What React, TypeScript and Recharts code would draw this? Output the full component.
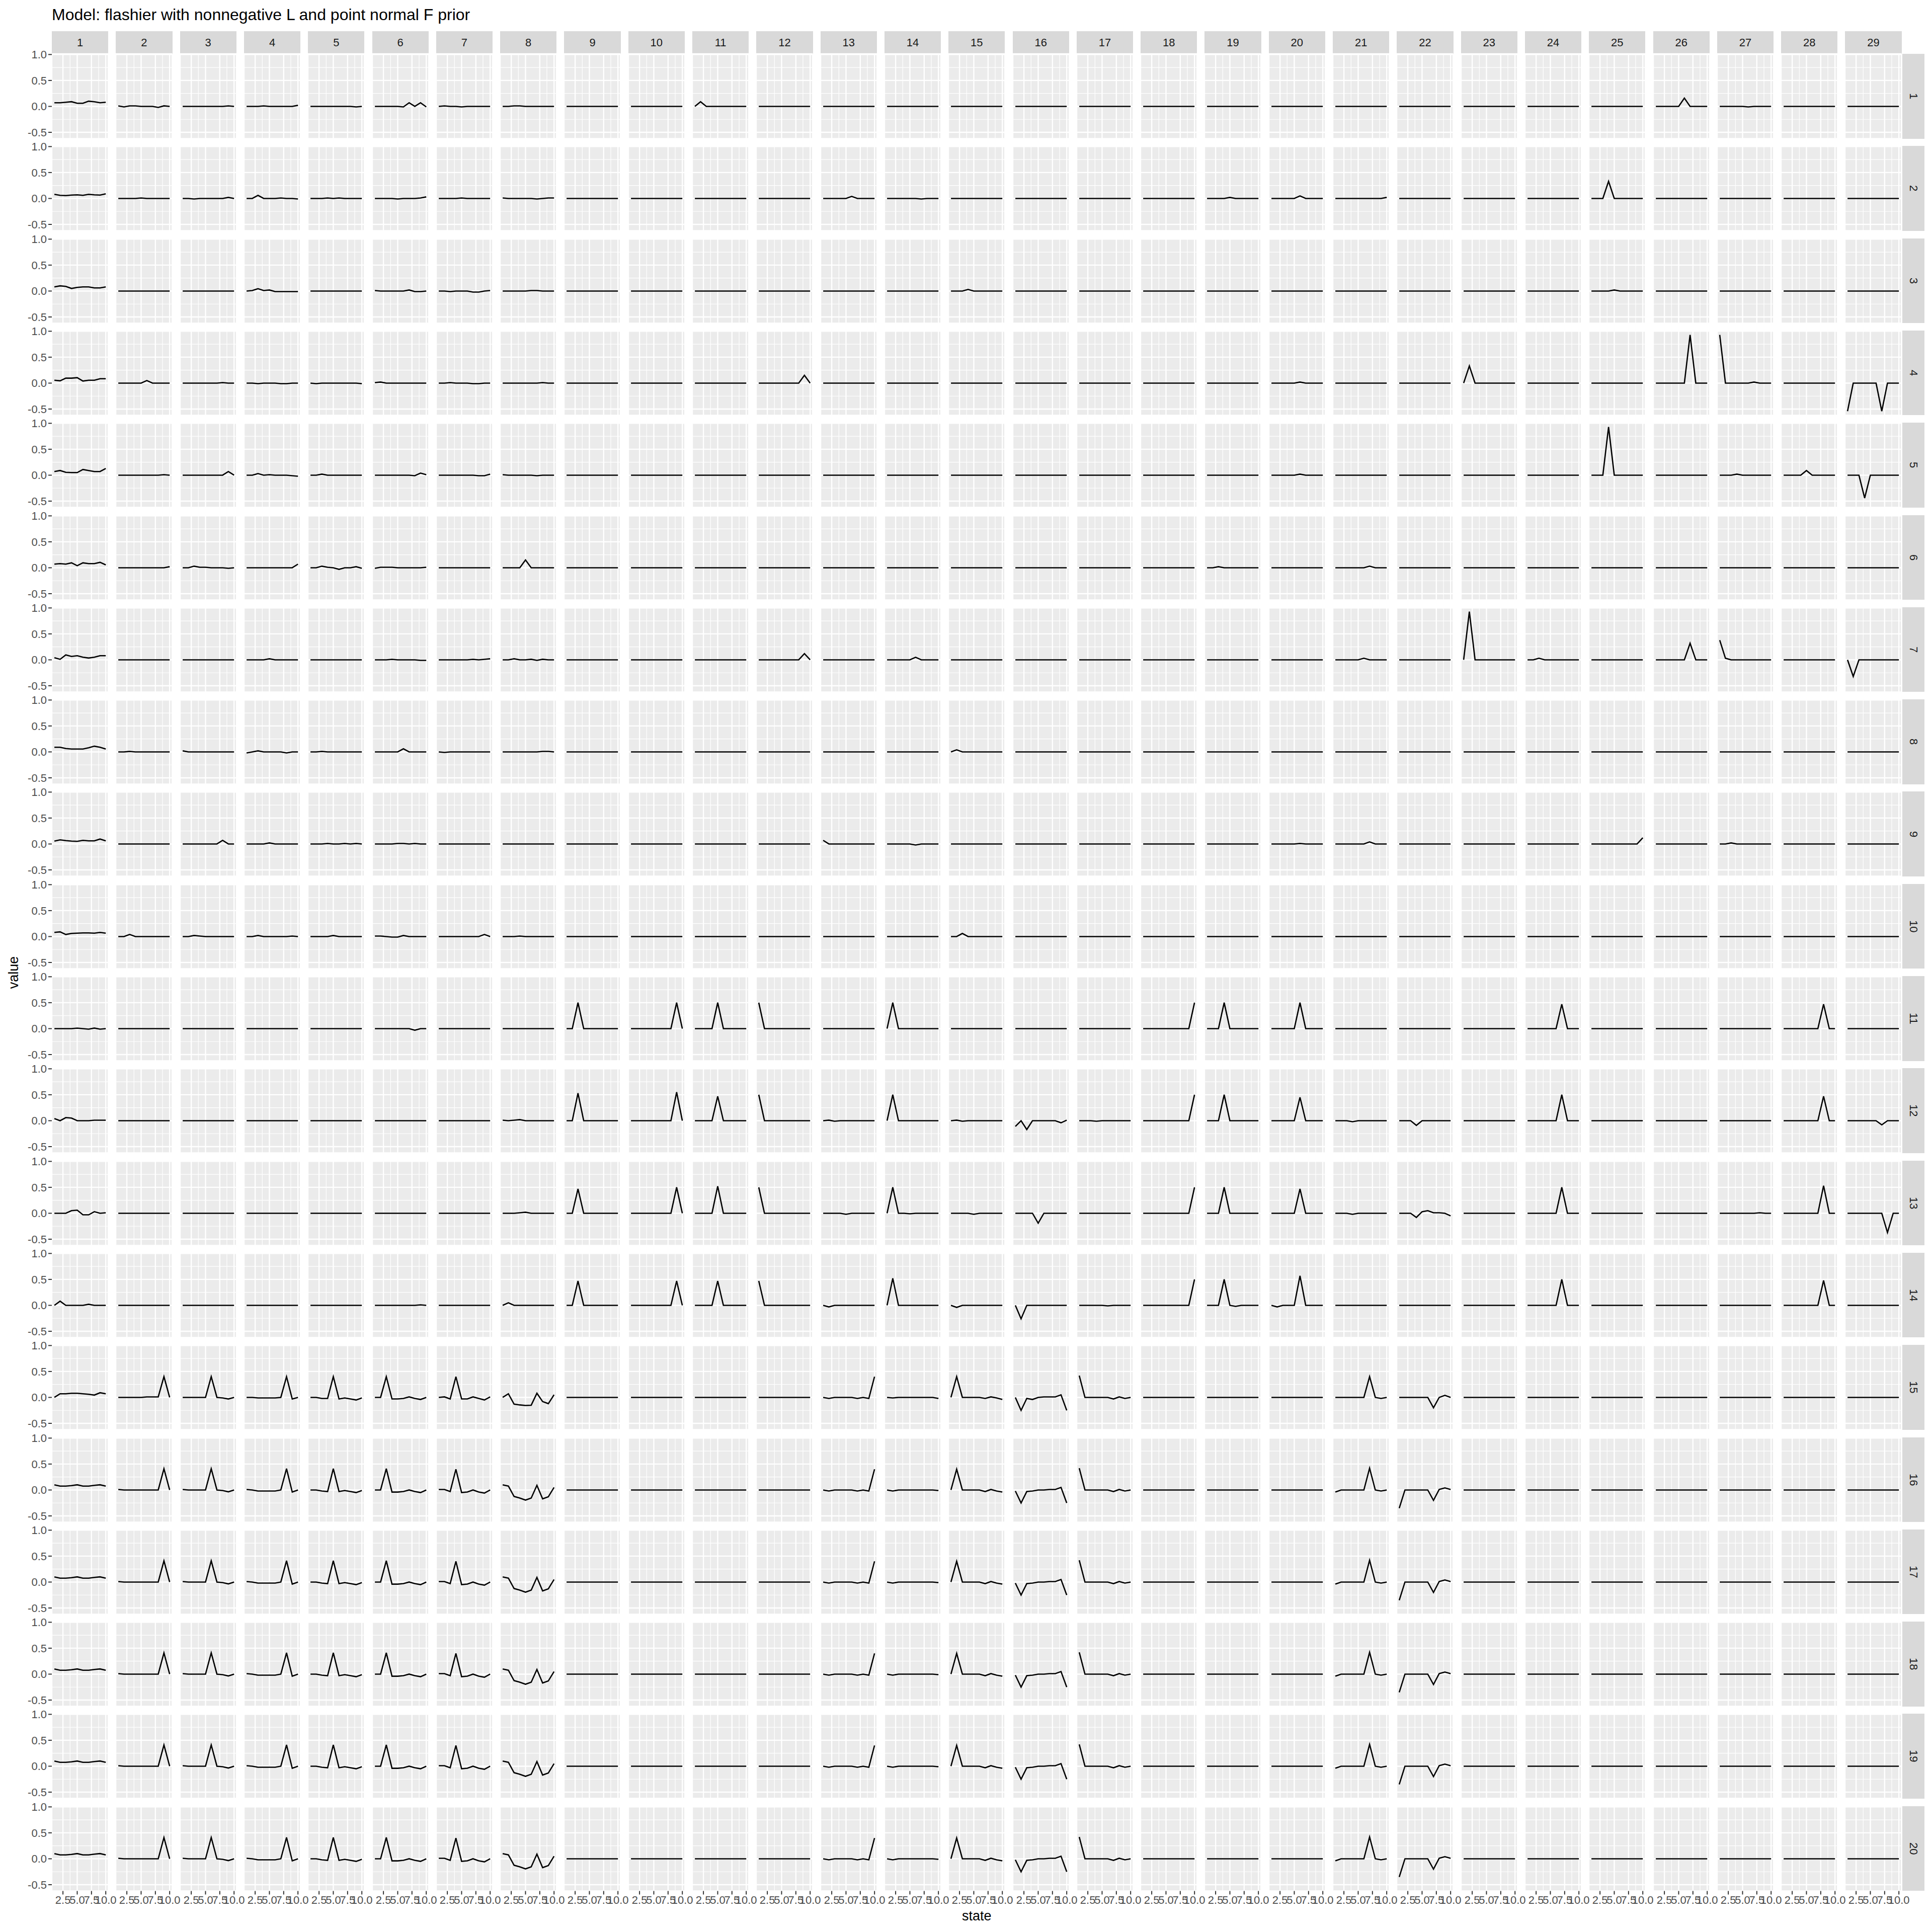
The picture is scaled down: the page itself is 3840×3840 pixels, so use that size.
import { LineChart, Line, XAxis, YAxis, CartesianGrid } from 'recharts';

type Trace = [number, number[]];

const states = [1, 2, 3, 4, 5, 6, 7, 8, 9, 10];
const colNames = ['1', '2', '3', '4', '5', '6', '7', '8', '9', '10', '11', '12', '13', '14', '15', '16', '17', '18', '19', '20', '21', '22', '23', '24', '25', '26', '27', '28', '29'];
const rowNames = ['1', '2', '3', '4', '5', '6', '7', '8', '9', '10', '11', '12', '13', '14', '15', '16', '17', '18', '19', '20'];
const xTicks = [2.5, 5, 7.5, 10];
const xMinor = [1.25, 3.75, 6.25, 8.75];
const yTicks = [-0.5, 0, 0.5, 1];
const yMinor = [-0.25, 0.25, 0.75];

// one list per row: [column, values for state 1..10]; panels not listed are flat at 0
const row01: Trace[] = [
  [1, [0.07, 0.07, 0.08, 0.09, 0.06, 0.06, 0.1, 0.09, 0.07, 0.08]],
  [2, [0.01, -0.01, 0.01, 0.01, 0, 0, 0, -0.02, 0.01, 0]],
  [3, [0, 0, 0, 0, 0, 0, 0, 0, 0.01, 0]],
  [4, [0, 0, 0, 0.01, 0, 0, 0, 0, 0, 0.02]],
  [5, [0, 0, 0, 0, 0, 0, 0, 0, -0.01, 0]],
  [6, [0, 0, 0, 0, 0, -0.01, 0.07, 0, 0.07, -0.01]],
  [7, [0, 0.01, 0, 0, -0.01, 0, 0, 0, 0, 0]],
  [8, [0, 0, 0.01, 0.01, 0, 0, 0, 0, 0, 0]],
  [11, [0, 0.09, 0, 0, 0, 0, 0, 0, 0, 0]],
  [26, [0, 0, 0, 0, 0, 0.16, 0, 0, 0, 0]],
  [27, [0, 0, 0, 0, 0, -0.01, 0, 0, 0, 0]],
];
const row02: Trace[] = [
  [1, [0.08, 0.06, 0.055, 0.065, 0.07, 0.06, 0.08, 0.07, 0.065, 0.09]],
  [2, [0, 0, 0, 0, 0.01, 0, 0, 0, 0, 0]],
  [3, [0, 0, -0.01, 0, 0, 0, 0, 0, 0.02, 0]],
  [4, [0, 0, 0.06, 0, 0, 0, 0.01, 0, 0, -0.01]],
  [5, [0, 0, 0, 0.01, 0, 0.01, 0, 0, 0, 0]],
  [6, [0, 0, 0, 0, -0.01, 0, 0, 0, 0.01, 0.03]],
  [7, [0, 0, 0, 0, 0.01, 0, 0, 0, 0, 0]],
  [8, [0.01, 0, 0, 0, 0, 0, -0.01, 0, 0.01, 0.01]],
  [13, [0, 0, 0, 0, 0, 0.04, 0, 0, 0, 0]],
  [14, [0, 0, 0, 0, 0, 0, -0.01, 0, 0, 0]],
  [19, [0, 0, 0, 0, 0.02, 0, 0, 0, 0, 0]],
  [20, [0, 0, 0, 0, 0, 0.05, 0, 0, 0, 0]],
  [21, [0, 0, 0, 0, 0, 0, 0, 0, 0, 0.02]],
  [25, [0, 0, 0, 0.33, 0, 0, 0, 0, 0, 0]],
];
const row03: Trace[] = [
  [1, [0.08, 0.1, 0.09, 0.05, 0.07, 0.08, 0.08, 0.06, 0.06, 0.08]],
  [4, [0, 0.01, 0.045, 0.01, 0.02, -0.01, -0.01, -0.01, -0.01, -0.01]],
  [6, [0.01, 0, 0, 0, 0, 0, 0.02, -0.01, -0.01, 0]],
  [7, [0, 0, -0.01, 0, 0, 0, -0.02, -0.02, 0, 0.01]],
  [8, [0, 0, 0, 0, 0, 0.01, 0.01, 0, 0, 0]],
  [15, [0, 0, 0, 0.03, 0, 0, 0, 0, 0, 0]],
  [25, [0, 0, 0, 0, 0.02, 0, 0, 0, 0, 0]],
];
const row04: Trace[] = [
  [1, [0.055, 0.045, 0.095, 0.095, 0.105, 0.04, 0.055, 0.055, 0.085, 0.085]],
  [2, [0, 0, 0, 0, 0, 0.05, 0, 0, 0, 0]],
  [3, [0, 0, 0, 0, 0, 0, 0, 0.01, 0, 0]],
  [4, [0, 0, -0.01, 0, 0, 0, -0.01, -0.01, 0, 0]],
  [5, [0, -0.01, 0, 0, 0, 0, 0, 0, 0, -0.01]],
  [6, [0.01, 0.02, 0, 0, 0, 0, 0, 0, 0, 0]],
  [7, [0, 0, 0.01, 0, 0, 0, -0.01, -0.01, 0, 0]],
  [8, [0, 0, 0, 0, 0, 0, 0, 0.01, 0, 0]],
  [12, [0, 0, 0, 0, 0, 0, 0, 0, 0.15, 0]],
  [20, [0, 0, 0, 0, 0, 0.02, 0, 0, 0, 0]],
  [23, [0, 0.33, 0, 0, 0, 0, 0, 0, 0, 0]],
  [26, [0, 0, 0, 0, 0, 0, 0.93, 0, 0, 0]],
  [27, [0.93, 0, 0, 0, 0, 0, 0.02, 0, 0, 0]],
  [29, [-0.54, 0, 0, 0, 0, 0, -0.54, 0, 0, 0]],
];
const row05: Trace[] = [
  [1, [0.07, 0.09, 0.055, 0.05, 0.05, 0.11, 0.09, 0.07, 0.07, 0.13]],
  [2, [0, 0, 0, 0, 0, 0, 0, 0, 0.01, 0]],
  [3, [0, 0, 0, 0, 0, 0, 0, 0, 0.07, 0]],
  [4, [0, 0, 0.03, 0, 0.01, 0, 0, 0, -0.01, -0.02]],
  [5, [0, 0, 0.02, 0, 0, 0, 0, 0, 0, 0]],
  [6, [0, 0, 0, 0, 0, 0, 0, -0.01, 0.04, 0.01]],
  [7, [0, 0, 0, 0, 0, 0, 0, -0.01, -0.01, 0.02]],
  [8, [0.01, 0, 0, 0, 0, 0, -0.01, 0, 0, 0]],
  [20, [0, 0, 0, 0, 0, 0.02, 0, 0, 0, 0]],
  [25, [0, 0, 0, 0.93, 0, 0, 0, 0, 0, 0]],
  [27, [0, 0, 0, 0.02, 0, 0, 0, 0, 0, 0]],
  [28, [0, 0, 0, 0, 0.09, 0, 0, 0, 0, 0]],
  [29, [0, 0, 0, -0.44, 0, 0, 0, 0, 0, 0]],
];
const row06: Trace[] = [
  [1, [0.07, 0.08, 0.07, 0.095, 0.04, 0.095, 0.08, 0.08, 0.105, 0.055]],
  [2, [0, 0, 0, 0, 0, 0, 0, 0, 0, 0.02]],
  [3, [0, 0, 0.03, 0.01, 0.01, 0, 0, 0, -0.01, 0]],
  [4, [0, 0, 0, 0, 0, 0, 0, 0, 0, 0.07]],
  [5, [0, 0, 0.03, 0.01, 0, -0.03, 0, 0, 0.02, -0.01]],
  [6, [-0.01, 0.01, 0.01, 0.01, 0, 0, 0, 0, 0, 0.01]],
  [8, [0, 0, 0, 0, 0.15, 0, 0, 0, 0, 0]],
  [19, [0, 0, 0.02, 0, 0, 0, 0, 0, 0, 0]],
  [21, [0, 0, 0, 0, 0, 0, 0.03, 0, 0, 0]],
];
const row07: Trace[] = [
  [1, [0.04, 0.01, 0.095, 0.065, 0.08, 0.05, 0.035, 0.05, 0.08, 0.08]],
  [4, [0, 0, 0, 0, 0.02, 0, 0, 0, 0, 0]],
  [6, [0, 0, 0, 0.01, 0, 0, 0, 0, -0.01, -0.01]],
  [7, [0, 0, 0, 0, 0, 0, 0.01, 0, 0.01, 0.02]],
  [8, [0, 0, 0.02, 0, 0, 0.01, -0.01, 0.01, 0, 0]],
  [12, [0, 0, 0, 0, 0, 0, 0, 0, 0.12, 0]],
  [14, [0, 0, 0, 0, 0, 0.05, 0, 0, 0, 0]],
  [21, [0, 0, 0, 0, 0, 0.03, 0, 0, 0, 0]],
  [23, [0, 0.93, 0, 0, 0, 0, 0, 0, 0, 0]],
  [24, [0, 0, 0.03, 0, 0, 0, 0, 0, 0, 0]],
  [26, [0, 0, 0, 0, 0, 0, 0.32, 0, 0, 0]],
  [27, [0.38, 0.03, 0, 0, 0, 0, 0, 0, 0, 0]],
  [29, [0, -0.32, 0, 0, 0, 0, 0, 0, 0, 0]],
];
const row08: Trace[] = [
  [1, [0.09, 0.09, 0.065, 0.055, 0.055, 0.055, 0.08, 0.11, 0.09, 0.055]],
  [2, [0, 0, 0.01, 0, 0, 0, 0, 0, 0, 0]],
  [3, [0.02, 0, 0, 0, 0, 0, 0, 0, 0, 0]],
  [4, [-0.02, 0, 0.02, 0, 0, 0, 0, -0.02, 0, 0]],
  [5, [0, 0, 0.01, 0, 0, 0, 0, 0, 0, 0]],
  [6, [0, 0, 0, 0, 0, 0.06, 0, 0, 0, 0]],
  [7, [0, -0.01, 0, 0, 0, 0, 0, 0, 0, 0]],
  [8, [0, 0, 0, 0, 0, 0, 0, 0.01, 0.01, 0]],
  [15, [0, 0.04, 0, 0, 0, 0, 0, 0, 0, 0]],
];
const row09: Trace[] = [
  [1, [0.055, 0.08, 0.065, 0.055, 0.05, 0.07, 0.06, 0.06, 0.095, 0.06]],
  [3, [0, 0, 0, 0, 0, 0, 0, 0.07, 0, 0]],
  [4, [0, 0, 0, 0, 0.02, 0, 0, 0, 0, 0]],
  [5, [0, 0, 0, 0.01, 0, 0, 0.01, 0, 0.01, 0]],
  [6, [0, 0, 0, 0, 0.01, 0.01, 0, 0.01, 0, 0]],
  [13, [0.07, 0, 0, 0, 0, 0, 0, 0, 0, 0]],
  [14, [0, 0, 0, 0, 0, -0.02, 0, 0, 0, 0]],
  [20, [0, 0, 0, 0, 0, 0.01, 0, 0, 0, 0]],
  [21, [0, 0, 0, 0, 0, 0, 0.04, 0, 0, 0]],
  [25, [0, 0, 0, 0, 0, 0, 0, 0, 0, 0.12]],
  [27, [0, 0, 0.02, 0, 0, 0, 0, 0, 0, 0]],
];
const row10: Trace[] = [
  [1, [0.08, 0.09, 0.04, 0.06, 0.065, 0.07, 0.07, 0.065, 0.08, 0.065]],
  [2, [0, 0, 0.04, 0, 0, 0, 0, 0, 0, 0]],
  [3, [0, 0, 0.02, 0.01, 0, 0, 0, 0, 0, 0]],
  [4, [0, 0, 0.02, 0, 0, 0, 0, 0, 0.01, 0]],
  [5, [0, 0, 0, 0, 0.02, 0, 0, 0, 0, 0]],
  [6, [0.01, 0.01, 0, -0.01, -0.01, 0.02, 0, 0, 0, 0]],
  [7, [0, 0, 0, 0, 0, 0, 0, 0, 0.04, 0]],
  [8, [0, 0, 0, 0.01, 0, 0, 0, 0, 0, 0]],
  [15, [0, 0, 0.06, 0, 0, 0, 0, 0, 0, 0]],
];
const row11: Trace[] = [
  [1, [0, 0, 0, 0, 0.01, 0, -0.01, 0.01, -0.01, 0]],
  [6, [0, 0, 0, 0, 0, 0, 0, -0.03, 0, 0]],
  [9, [0, 0, 0.5, 0, 0, 0, 0, 0, 0, 0]],
  [10, [0, 0, 0, 0, 0, 0, 0, 0, 0.5, 0]],
  [11, [0, 0, 0, 0, 0.5, 0, 0, 0, 0, 0]],
  [12, [0.5, 0, 0, 0, 0, 0, 0, 0, 0, 0]],
  [14, [0, 0.5, 0, 0, 0, 0, 0, 0, 0, 0]],
  [18, [0, 0, 0, 0, 0, 0, 0, 0, 0, 0.5]],
  [19, [0, 0, 0, 0.5, 0, 0, 0, 0, 0, 0]],
  [20, [0, 0, 0, 0, 0, 0.5, 0, 0, 0, 0]],
  [24, [0, 0, 0, 0, 0, 0, 0.47, 0, 0, 0]],
  [28, [0, 0, 0, 0, 0, 0, 0, 0.47, 0, 0]],
];
const row12: Trace[] = [
  [1, [0.04, 0, 0.06, 0.05, 0, 0, 0, 0.01, 0.01, 0.01]],
  [8, [0.01, 0, 0.01, 0.02, 0, 0, 0, 0, 0, 0]],
  [9, [0, 0, 0.53, 0, 0, 0, 0, 0, 0, 0]],
  [10, [0, 0, 0, 0, 0, 0, 0, 0, 0.55, 0]],
  [11, [0, 0, 0, 0, 0.47, 0, 0, 0, 0, 0]],
  [12, [0.5, 0, 0, 0, 0, 0, 0, 0, 0, 0]],
  [13, [0, 0.01, -0.01, 0, 0, 0, 0, 0, 0, 0]],
  [14, [0, 0.5, 0, 0, 0, 0, 0, 0, 0, 0]],
  [15, [0, 0.01, -0.01, 0, 0, 0, 0, 0, 0, 0]],
  [16, [-0.11, 0, -0.17, 0, 0, 0, 0, 0, -0.04, 0.01]],
  [17, [0, 0, 0, -0.01, 0, 0, 0, 0, 0, 0]],
  [18, [0, 0, 0, 0, 0, 0, 0, 0, 0, 0.5]],
  [19, [0, 0, 0, 0.5, 0, 0, 0, 0, 0, 0]],
  [20, [0, 0, 0, 0, 0, 0.45, 0, 0, 0, 0]],
  [21, [0, 0, 0, -0.02, 0, 0, 0, 0, 0, 0]],
  [22, [0, 0, 0, -0.09, 0, 0, 0, 0, 0, 0]],
  [24, [0, 0, 0, 0, 0, 0, 0.5, 0, 0, 0]],
  [28, [0, 0, 0, 0, 0, 0, 0, 0.47, 0, 0]],
  [29, [0, 0, 0, 0, 0, 0, -0.08, 0, 0, 0]],
];
const row13: Trace[] = [
  [1, [0, 0, 0, 0.05, 0.06, -0.03, -0.03, 0.03, 0, 0.01]],
  [8, [0, 0, 0, 0.01, 0.02, 0, 0, 0, 0, 0]],
  [9, [0, 0, 0.47, 0, 0, 0, 0, 0, 0, 0]],
  [10, [0, 0, 0, 0, 0, 0, 0, 0, 0.5, 0]],
  [11, [0, 0, 0, 0, 0.52, 0, 0, 0, 0, 0]],
  [12, [0.5, 0, 0, 0, 0, 0, 0, 0, 0, 0]],
  [13, [0, 0, 0, 0, -0.02, 0, 0, 0, 0, 0]],
  [14, [0, 0.5, 0, 0, -0.01, 0, 0, 0, 0, 0]],
  [15, [0, 0, 0, 0, -0.02, 0, 0, 0, 0, 0]],
  [16, [0, 0, 0, 0, -0.19, 0, 0, 0, 0, 0]],
  [18, [0, 0, 0, 0, 0, 0, 0, 0, 0, 0.5]],
  [19, [0, 0, 0, 0.5, 0, 0, 0, 0, 0, 0]],
  [20, [0, 0, 0, 0, 0, 0.47, 0, 0, 0, 0]],
  [21, [0, 0, 0, -0.02, 0, 0, 0, 0, 0, 0]],
  [22, [0, 0, 0, -0.08, 0.03, 0.05, 0.01, 0.01, 0, -0.05]],
  [24, [0, 0, 0, 0, 0, 0, 0.5, 0, 0, 0]],
  [27, [0, 0, 0, 0, 0, 0, 0, 0.01, 0, 0]],
  [28, [0, 0, 0, 0, 0, 0, 0, 0.53, 0, 0]],
  [29, [0, 0, 0, 0, 0, 0, 0, -0.37, 0, 0]],
];
const row14: Trace[] = [
  [1, [0, 0.08, 0, 0, 0, 0, 0.02, 0, 0, 0]],
  [6, [0, 0, 0, 0, 0, 0, 0, 0, 0.01, 0]],
  [8, [0, 0.05, 0, 0, 0, 0, 0, 0, 0, 0]],
  [9, [0, 0, 0.47, 0, 0, 0, 0, 0, 0, 0]],
  [10, [0, 0, 0, 0, 0, 0, 0, 0, 0.47, 0]],
  [11, [0, 0, 0, 0, 0.47, 0, 0, 0, 0, 0]],
  [12, [0.47, 0, 0, 0, 0, 0, 0, 0, 0, 0]],
  [13, [0, -0.03, 0, 0, 0, 0, 0, 0, 0, 0]],
  [14, [0, 0.52, 0, 0, 0, 0, 0, 0, 0, 0]],
  [15, [0, -0.04, 0, 0, 0, 0, 0, 0, 0, 0]],
  [16, [0, -0.26, 0, 0, 0, 0, 0, 0, 0, 0]],
  [17, [0, 0, 0, 0, 0, -0.01, 0, 0, 0, 0]],
  [18, [0, 0, 0, 0, 0, 0, 0, 0, 0, 0.5]],
  [19, [0, 0, 0, 0.5, 0, -0.02, 0, 0, 0, 0]],
  [20, [0, -0.03, 0, 0, 0, 0.57, 0, 0, 0, 0]],
  [24, [0, 0, 0, 0, 0, 0, 0.5, 0, 0, 0]],
  [28, [0, 0, 0, 0, 0, 0, 0, 0.48, 0, 0]],
];
const row15: Trace[] = [
  [1, [0, 0.07, 0.07, 0.08, 0.08, 0.07, 0.06, 0.045, 0.09, 0.07]],
  [2, [0, 0, 0, 0, 0, 0.01, 0.01, 0.01, 0.4, 0]],
  [3, [0, 0, 0, 0, 0, 0.4, 0, -0.01, -0.03, 0]],
  [4, [0, 0, -0.01, -0.01, -0.01, -0.01, 0, 0.4, -0.03, 0]],
  [5, [0, 0, -0.02, -0.02, 0.4, -0.03, -0.01, -0.03, -0.05, -0.01]],
  [6, [0, 0, 0.4, -0.03, -0.03, -0.02, 0.01, -0.02, -0.04, 0]],
  [7, [0, 0.01, -0.03, 0.4, -0.03, -0.03, 0.01, -0.02, -0.05, 0.01]],
  [8, [0, 0.07, -0.13, -0.145, -0.155, -0.15, 0.08, -0.08, -0.12, 0.05]],
  [13, [0, -0.02, 0, 0, 0, 0, -0.02, 0, -0.02, 0.4]],
  [14, [0, -0.01, 0, 0, 0, 0, 0, 0, 0, -0.02]],
  [15, [0, 0.4, 0, 0, 0, 0, -0.02, 0.01, -0.01, -0.04]],
  [16, [0, -0.25, -0.02, -0.04, 0, 0.01, 0.01, 0.01, 0.05, -0.25]],
  [17, [0.42, 0, 0, 0, 0, 0, -0.03, 0.01, -0.02, 0]],
  [21, [0, 0, 0, 0, 0, 0, 0.4, 0, -0.02, 0]],
  [22, [0, 0, 0, 0, 0, 0, -0.2, 0, 0.04, 0]],
];
// rows 16 to 20 look the same in the picture
const row16: Trace[] = [
  [1, [0.1, 0.075, 0.075, 0.085, 0.1, 0.075, 0.075, 0.09, 0.1, 0.075]],
  [2, [0.01, 0, 0, 0, 0, 0, 0, 0, 0.41, 0]],
  [3, [0.01, 0, 0, 0, 0, 0.41, 0, -0.01, -0.035, 0]],
  [4, [0.01, 0, -0.02, -0.02, -0.02, -0.02, 0, 0.41, -0.04, 0]],
  [5, [0, 0, -0.02, -0.03, 0.41, -0.03, -0.01, -0.03, -0.05, -0.01]],
  [6, [0, 0, 0.41, -0.04, -0.04, -0.03, 0, -0.03, -0.05, 0]],
  [7, [0.01, 0.01, -0.03, 0.4, -0.05, -0.04, 0, -0.04, -0.06, 0]],
  [8, [0.1, 0.075, -0.125, -0.155, -0.195, -0.155, 0.09, -0.17, -0.13, 0.05]],
  [13, [0, -0.02, 0, 0, 0, 0, -0.02, 0, -0.02, 0.4]],
  [14, [0, -0.02, 0, 0, 0, 0, 0, 0, 0, -0.01]],
  [15, [0, 0.4, 0, 0, 0, 0, -0.03, 0.01, -0.02, -0.04]],
  [16, [-0.02, -0.25, -0.03, -0.02, 0, 0, 0.01, 0.01, 0.05, -0.25]],
  [17, [0.42, 0, 0, 0, 0, 0, -0.03, 0.01, -0.02, 0]],
  [21, [-0.04, 0, 0, 0, 0, 0, 0.42, 0, -0.02, 0]],
  [22, [-0.35, 0, 0, 0, 0, 0, -0.2, 0.01, 0.04, 0.01]],
];
const rowTraces: Trace[][] = [row01, row02, row03, row04, row05, row06, row07, row08, row09, row10, row11, row12, row13, row14, row15, row16, row16, row16, row16, row16];
const flat = [0, 0, 0, 0, 0, 0, 0, 0, 0, 0];

const X_DOMAIN: [number, number] = [0.55, 10.45];
const Y_DOMAIN: [number, number] = [-0.621, 1.013];
const LEFT = 103;
const TOP = 107;
const PW = 112.3;
const PH = 168.5;
const STEP_X = 127.3;
const STEP_Y = 183.3;
const AXIS_W = 80;
const AXIS_H = 46;
const PAD = 24; // room so tick labels can spill past the panel edge
const FONT = '"Liberation Sans", Arial, Helvetica, sans-serif';

const Panel = ({ r, c, values }: { r: number; c: number; values: number[] }) => {
  const data = states.map((s, i) => ({ state: s, value: values[i] }));
  const isLeft = c === 0;
  const isBottom = r === rowNames.length - 1;
  const tickStyle = { fontSize: 22, fill: '#4D4D4D', fontFamily: FONT };
  const w = PW + 2 * PAD + (isLeft ? AXIS_W : 0);
  const h = PH + 2 * PAD + (isBottom ? AXIS_H : 0);
  return (
    <div style={{ position: 'absolute', left: LEFT + c * STEP_X - PAD - (isLeft ? AXIS_W : 0), top: TOP + r * STEP_Y - PAD }}>
      <LineChart width={w} height={h} data={data} margin={{ top: PAD, right: PAD, bottom: PAD, left: PAD }}>
        <XAxis dataKey="state" type="number" domain={X_DOMAIN} ticks={xTicks} allowDataOverflow interval={0}
          hide={!isBottom} height={AXIS_H} tickSize={7} tickMargin={3} axisLine={false}
          tickLine={{ stroke: '#333333', strokeWidth: 2 }} tick={tickStyle} tickFormatter={(v: number) => v.toFixed(1)} />
        <XAxis xAxisId="minor" dataKey="state" type="number" domain={X_DOMAIN} ticks={xMinor} allowDataOverflow hide />
        <YAxis type="number" domain={Y_DOMAIN} ticks={yTicks} allowDataOverflow interval={0}
          hide={!isLeft} width={AXIS_W} tickSize={7} tickMargin={3} axisLine={false}
          tickLine={{ stroke: '#333333', strokeWidth: 2 }} tick={tickStyle} tickFormatter={(v: number) => v.toFixed(1)} />
        <YAxis yAxisId="minor" type="number" domain={Y_DOMAIN} ticks={yMinor} allowDataOverflow hide />
        <CartesianGrid xAxisId="minor" yAxisId="minor" fill="#EBEBEB" fillOpacity={1} stroke="#FFFFFF" strokeWidth={1.2} />
        <CartesianGrid stroke="#FFFFFF" strokeWidth={2.4} />
        <Line dataKey="value" type="linear" stroke="#000000" strokeWidth={2.6} dot={false} isAnimationActive={false} />
      </LineChart>
    </div>
  );
};

const App = () => {
  const panels = [];
  for (let r = 0; r < rowNames.length; r++) {
    const traces = rowTraces[r];
    for (let c = 0; c < colNames.length; c++) {
      const found = traces.find(t => t[0] === c + 1);
      panels.push(<Panel key={`${r}-${c}`} r={r} c={c} values={found ? found[1] : flat} />);
    }
  }
  const gridRight = LEFT + (colNames.length - 1) * STEP_X + PW;
  const gridBottom = TOP + (rowNames.length - 1) * STEP_Y + PH;

  return (
    <div style={{ position: 'absolute', left: 0, top: 0, width: 3840, height: 3840, background: '#FFFFFF', fontFamily: FONT, overflow: 'hidden' }}>
      <div style={{ position: 'absolute', left: LEFT, top: 13, fontSize: 32, lineHeight: 1, color: '#000000', whiteSpace: 'nowrap' }}>
        Model: flashier with nonnegative L and point normal F prior
      </div>

      {/* column strips */}
      {colNames.map((name, c) => (
        <div key={`cs${c}`} style={{ position: 'absolute', left: LEFT + c * STEP_X, top: 62, width: PW, height: TOP - 62, background: '#D9D9D9', color: '#1A1A1A', fontSize: 22, display: 'flex', alignItems: 'center', justifyContent: 'center' }}>
          {name}
        </div>
      ))}

      {/* row strips */}
      {rowNames.map((name, r) => (
        <div key={`rs${r}`} style={{ position: 'absolute', left: gridRight + 1, top: TOP + r * STEP_Y, width: 44, height: PH, background: '#D9D9D9', color: '#1A1A1A', fontSize: 22, display: 'flex', alignItems: 'center', justifyContent: 'center' }}>
          <span style={{ writingMode: 'vertical-rl' }}>{name}</span>
        </div>
      ))}

      {panels}

      <div style={{ position: 'absolute', left: 27, top: (TOP + gridBottom) / 2, transform: 'translate(-50%, -50%) rotate(-90deg)', fontSize: 27, color: '#000000', whiteSpace: 'nowrap' }}>
        value
      </div>
      <div style={{ position: 'absolute', left: (LEFT + gridRight) / 2, top: 3808, transform: 'translate(-50%, -50%)', fontSize: 27, color: '#000000' }}>
        state
      </div>
    </div>
  );
};

export default App;
